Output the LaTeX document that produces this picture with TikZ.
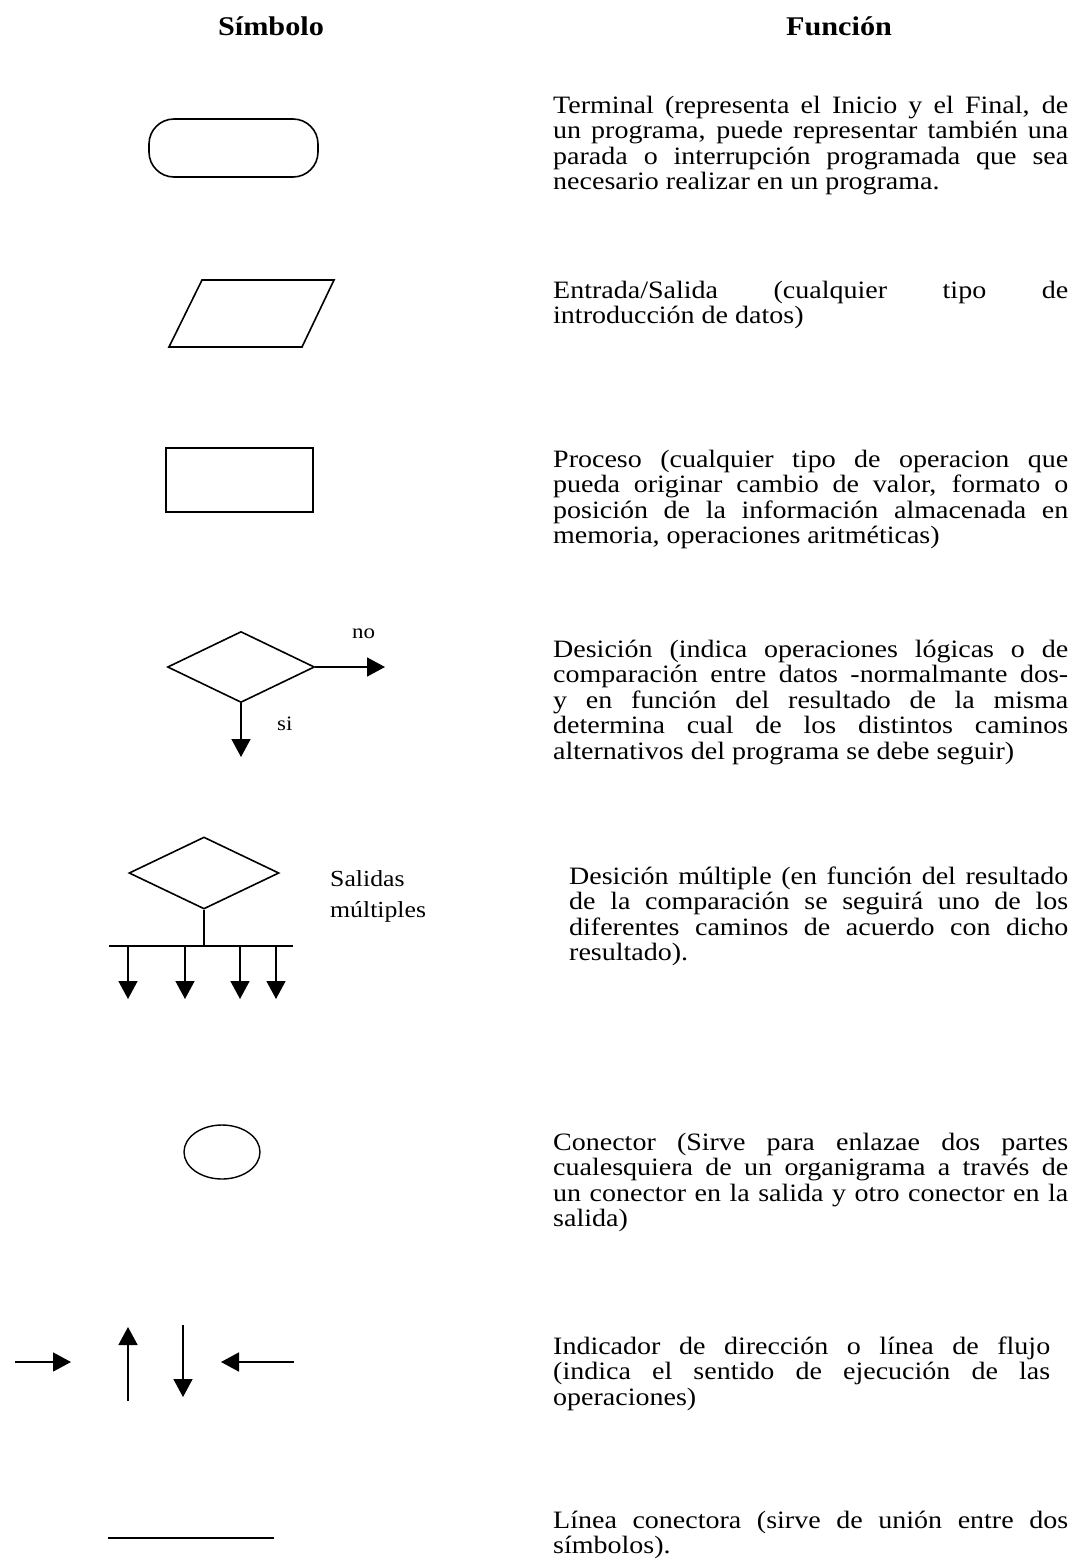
\documentclass[tikz,border=0pt]{standalone}
\usepackage{fontspec}
\setmainfont{Liberation Serif}[FakeStretch=1.12]
\usetikzlibrary{arrows.meta,shapes.geometric}
\newcommand{\jline}[2][516pt]{\makebox[#1][s]{#2}}
\newcommand{\lline}[2][516pt]{\makebox[#1][l]{#2}}
\tikzset{
  symb/.style={draw, line width=1.6pt, inner sep=0pt},
  arr/.style={line width=1.6pt, -{Triangle[width=19pt,length=18pt]}},
  plain/.style={line width=1.6pt},
  desc/.style={anchor=base west, inner sep=0pt, font=\fontsize{25}{25.6}\selectfont},
  head/.style={anchor=base, inner sep=0pt, font=\fontsize{27}{30}\selectfont\bfseries},
  lbl/.style={anchor=base west, inner sep=0pt, font=\fontsize{23}{28}\selectfont}
}
\begin{document}
\begin{tikzpicture}[x=1pt,y=-1pt]
\useasboundingbox (0,0) rectangle (1074,1566);
\fill[white] (0,0) rectangle (1074,1566);

% headers
\node[head] (hsim) at (271,35) {Símbolo};
\node[head] (hfun) at (839,35) {Función};

% terminal
\node[symb, rounded corners=25pt, minimum width=169pt, minimum height=58pt] (term) at (233.5,148) {};
% parallelogram
\coordinate (pa) at (202,280);
\coordinate (pb) at (334,280);
\coordinate (pc) at (302,347);
\coordinate (pd) at (169,347);
\draw[plain, line join=miter] (pa) -- (pb) -- (pc) -- (pd) -- cycle;
% process
\node[symb, minimum width=147pt, minimum height=64pt] (proc) at (239.5,480) {};
% decision
\node[symb, diamond, minimum width=147pt, minimum height=71pt] (dec) at (241,667) {};
\coordinate (noend) at (385,667);
\coordinate (siend) at (241,757);
\draw[arr] (dec.east) -- (noend);
\draw[arr] (dec.south) -- (siend);
\node[lbl, font=\fontsize{20.5}{24}\selectfont] (nolbl) at (352,638) {no};
\node[lbl, font=\fontsize{20.5}{24}\selectfont] (silbl) at (277,730) {si};
% multiple decision
\node[symb, diamond, minimum width=150pt, minimum height=72pt] (mdec) at (204,873) {};
\coordinate (bar) at (204,946);
\coordinate (barl) at (109,946);
\coordinate (barr) at (293,946);
\draw[plain] (mdec.south) -- (bar);
\draw[plain] (barl) -- (barr);
\foreach \xx/\nm in {128/a,185/b,240/c,276/d}{
  \coordinate (ms\nm) at (\xx,946);
  \coordinate (me\nm) at (\xx,999);
  \draw[arr] (ms\nm) -- (me\nm);
}
\node[lbl] (salm) at (330,886) {Salidas};
\node[lbl] (salm2) at (330,917) {múltiples};
% connector
\node[draw, line width=1.4pt, ellipse, minimum width=76pt, minimum height=54pt, inner sep=0pt] (conn) at (222,1152) {};
% flow arrows
\coordinate (r1) at (15,1362);  \coordinate (r2) at (71,1362);
\coordinate (u1) at (128,1401); \coordinate (u2) at (128,1327);
\coordinate (d1) at (183,1325); \coordinate (d2) at (183,1397);
\coordinate (l1) at (294,1362); \coordinate (l2) at (221,1362);
\draw[arr] (r1) -- (r2);
\draw[arr] (u1) -- (u2);
\draw[arr] (d1) -- (d2);
\draw[arr] (l1) -- (l2);
% connecting line
\coordinate (c1) at (108,1538); \coordinate (c2) at (274,1538);
\draw[plain] (c1) -- (c2);

% descriptions
\node[desc] (t1) at (553,113) {\parbox[t]{515pt}{\baselineskip=25.6pt
\jline[515pt]{Terminal (representa el Inicio y el Final, de}\\
\jline[515pt]{un programa, puede representar también una}\\
\jline[515pt]{parada o interrupción programada que sea}\\
\lline[515pt]{necesario realizar en un programa.}}};

\node[desc] (t2) at (553,298) {\parbox[t]{515pt}{\baselineskip=25.6pt
\jline[515pt]{Entrada/Salida (cualquier tipo de}\\
\lline[515pt]{introducción de datos)}}};

\node[desc] (t3) at (553,467) {\parbox[t]{515pt}{\baselineskip=25.6pt
\jline[515pt]{Proceso (cualquier tipo de operacion que}\\
\jline[515pt]{pueda originar cambio de valor, formato o}\\
\jline[515pt]{posición de la información almacenada en}\\
\lline[515pt]{memoria, operaciones aritméticas)}}};

\node[desc] (t4) at (553,657) {\parbox[t]{515pt}{\baselineskip=25.6pt
\jline[515pt]{Desición (indica operaciones lógicas o de}\\
\jline[515pt]{comparación entre datos -normalmante dos-}\\
\jline[515pt]{y en función del resultado de la misma}\\
\jline[515pt]{determina cual de los distintos caminos}\\
\lline[515pt]{alternativos del programa se debe seguir)}}};

\node[desc] (t5) at (569,884) {\parbox[t]{499pt}{\baselineskip=25.6pt
\jline[499pt]{Desición múltiple (en función del resultado}\\
\jline[499pt]{de la comparación se seguirá uno de los}\\
\jline[499pt]{diferentes caminos de acuerdo con dicho}\\
\lline[499pt]{resultado).}}};

\node[desc] (t6) at (553,1150) {\parbox[t]{515pt}{\baselineskip=25.6pt
\jline[515pt]{Conector (Sirve para enlazae dos partes}\\
\jline[515pt]{cualesquiera de un organigrama a través de}\\
\jline[515pt]{un conector en la salida y otro conector en la}\\
\lline[515pt]{salida)}}};

\node[desc] (t7) at (553,1354) {\parbox[t]{497pt}{\baselineskip=25.6pt
\jline[497pt]{Indicador de dirección o línea de flujo}\\
\jline[497pt]{(indica el sentido de ejecución de las}\\
\lline[497pt]{operaciones)}}};

\node[desc] (t8) at (553,1528) {\parbox[t]{515pt}{\baselineskip=25.6pt
\jline[515pt]{Línea conectora (sirve de unión entre dos}\\
\lline[515pt]{símbolos).}}};
\end{tikzpicture}
\end{document}
